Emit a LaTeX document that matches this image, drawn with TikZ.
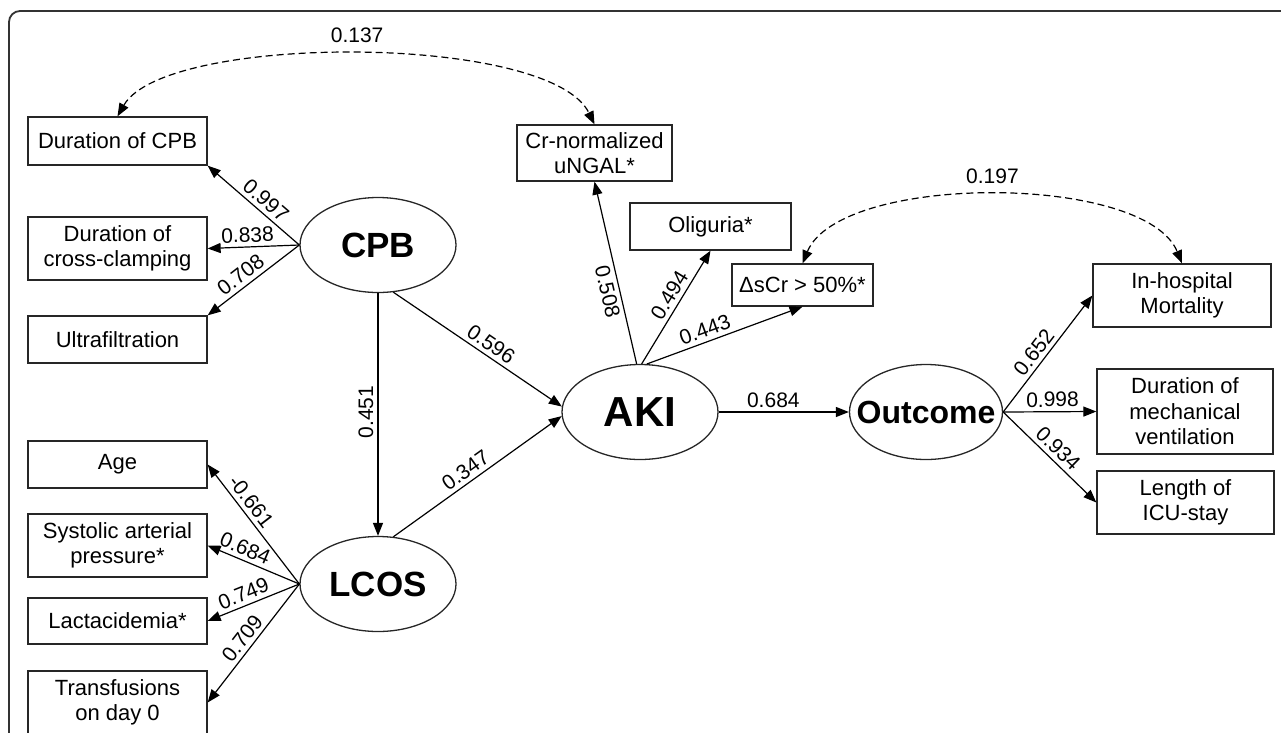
\documentclass[tikz,border=0pt]{standalone}
\usepackage{fontspec}
\setmainfont{Liberation Sans}
\usetikzlibrary{arrows.meta,shapes.geometric}

\begin{document}
\begin{tikzpicture}[
  x=1pt, y=-1pt,
  ind/.style={draw=black!85, line width=1.3pt, align=center, minimum width=179pt, inner sep=2pt, font=\fontsize{22}{25.5}\selectfont},
  lat/.style={draw=black!85, line width=1.3pt, ellipse, minimum width=156pt, minimum height=95pt, inner sep=0pt, font=\bfseries\fontsize{35}{40}\selectfont},
  arr/.style={-{Triangle[length=13pt,width=10pt]}, line width=1.2pt},
  cov/.style={{Triangle[length=13pt,width=10pt]}-{Triangle[length=13pt,width=10pt]}, line width=1.2pt, dash pattern=on 7pt off 4pt},
  num/.style={font=\fontsize{21}{24}\selectfont, inner sep=4pt},
  lbl/.style={num, sloped, above}
]
\useasboundingbox (0,0) rectangle (1281,732);
\draw[line width=1.8pt, black!80, rounded corners=11pt] (9,760) -- (9,11) -- (1300,11);

\node[ind, minimum height=48pt] (dcpb) at (117.5,141) {Duration of CPB};
\node[ind, minimum height=63pt] (dclamp) at (117.5,248.5) {Duration of\\cross-clamping};
\node[ind, minimum height=47pt] (ultra) at (117.5,339.5) {Ultrafiltration};
\node[ind, minimum height=47pt] (age) at (117.5,464.5) {Age};
\node[ind, minimum height=63pt] (sap) at (117.5,545.5) {Systolic arterial\\pressure*};
\node[ind, minimum height=46pt] (lact) at (117.5,621) {Lactacidemia*};
\node[ind, minimum height=63pt] (transf) at (117.5,702.5) {Transfusions\\on day 0};
\node[ind, minimum width=155pt, minimum height=56pt] (ungal) at (594.5,153) {Cr-normalized\\uNGAL*};
\node[ind, minimum width=161pt, minimum height=47pt] (olig) at (710.5,226.5) {Oliguria*};
\node[ind, minimum width=141pt, minimum height=42pt] (dscr) at (802.5,285) {ΔsCr > 50\%*};
\node[ind, minimum width=178pt, minimum height=63pt] (mort) at (1182,295.5) {In-hospital\\Mortality};
\node[ind, minimum width=176pt, minimum height=85pt] (mvent) at (1185,411.5) {Duration of\\mechanical\\ventilation};
\node[ind, minimum width=177pt, minimum height=63pt] (icu) at (1185.5,502.5) {Length of\\ICU-stay};

\node[lat] (cpb) at (378,245) {CPB};
\node[lat] (lcos) at (378,584) {LCOS};
\node[lat, font=\bfseries\fontsize{42}{48}\selectfont] (aki) at (640,412) {AKI};
\node[lat, minimum width=153pt, inner xsep=-20pt, font=\bfseries\fontsize{32}{38}\selectfont] (outc) at (926,412) {Outcome};

\draw[arr] (cpb.west) -- node[lbl, pos=0.45] {0.997} (dcpb.south east);
\draw[arr] (cpb.west) -- node[lbl, pos=0.56] {0.838} (dclamp.east);
\draw[arr] (cpb.west) -- node[lbl, pos=0.56] {0.708} (ultra.north east);
\draw[arr] (cpb.south) -- node[lbl, rotate=180, pos=0.49] {0.451} (lcos.north);
\draw[arr] (cpb.-72) -- node[lbl, pos=0.54] {0.596} (aki.176);
\draw[arr] (lcos.72) -- node[lbl, pos=0.47] {0.347} (aki.183);
\draw[arr] (lcos.west) -- node[lbl, pos=0.63] {-0.661} (age.east);
\draw[arr] (lcos.west) -- node[lbl, pos=0.64] {0.684} (sap.east);
\draw[arr] (lcos.west) -- node[lbl, pos=0.56] {0.749} (lact.east);
\draw[arr] (lcos.west) -- node[lbl, pos=0.52] {0.709} (transf.east);
\draw[arr] (aki.94) -- node[lbl, below, pos=0.41] {0.508} (ungal.south);
\draw[arr] (aki.88) -- node[lbl, pos=0.55] {0.494} (olig.south);
\draw[arr] (aki.82) -- node[lbl, pos=0.4] {0.443} (dscr.south);
\draw[arr] (aki.east) -- node[lbl, pos=0.42] {0.684} (outc.west);
\draw[arr] (outc.east) -- node[lbl, pos=0.45] {0.652} (mort.west);
\draw[arr] (outc.east) -- node[lbl, pos=0.53] {0.998} (mvent.west);
\draw[arr] (outc.east) -- node[lbl, pos=0.5] {0.934} (icu.west);

\draw[cov] (dcpb.north) .. controls (165,33) and (550,33) .. (ungal.north) node[num, above, pos=0.5, inner ysep=12pt] {0.137};
\draw[cov] (dscr.north) .. controls (840,173) and (1145,173) .. (mort.north) node[num, above, pos=0.5, inner ysep=11pt] {0.197};
\end{tikzpicture}
\end{document}
